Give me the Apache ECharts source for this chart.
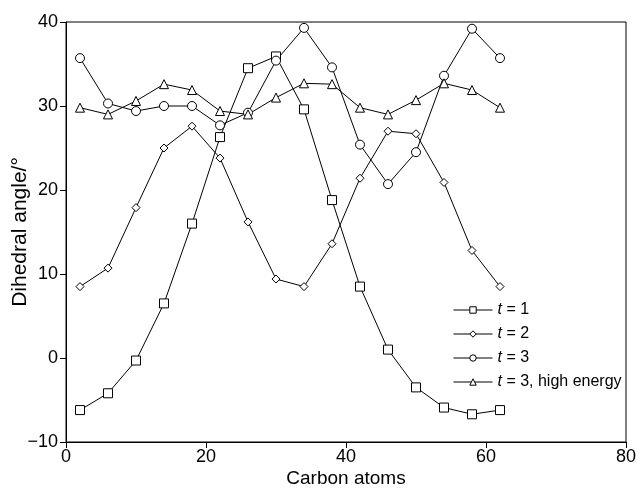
<!DOCTYPE html>
<html>
<head>
<meta charset="utf-8">
<script src="https://cdn.jsdelivr.net/npm/echarts@6/dist/echarts.min.js"></script>
<style>
  html, body { margin: 0; padding: 0; background: #fff; }
  #main { width: 638px; height: 490px; }
</style>
</head>
<body>
<div id="main"></div>
<script>
// carbon atom positions
var carbons = [2, 6, 10, 14, 18, 22, 26, 30, 34, 38, 42, 46, 50, 54, 58, 62];
// dihedral angles
var t1 = [-6.2, -4.2, -0.3, 6.5, 16.0, 26.3, 34.5, 35.9, 29.6, 18.8, 8.5, 1.0, -3.5, -5.9, -6.7, -6.2];
var t2 = [8.5, 10.7, 17.9, 25.0, 27.6, 23.8, 16.2, 9.4, 8.5, 13.6, 21.4, 27.0, 26.7, 20.9, 12.8, 8.5];
var t3 = [35.7, 30.3, 29.4, 30.0, 30.0, 27.7, 29.2, 35.4, 39.3, 34.6, 25.4, 20.7, 24.5, 33.6, 39.2, 35.7];
var t3high = [29.8, 29.0, 30.6, 32.6, 31.9, 29.4, 29.0, 31.0, 32.7, 32.6, 29.8, 29.0, 30.7, 32.7, 31.9, 29.8];
var seriesNames = ['t = 1', 't = 2', 't = 3', 't = 3, high energy'];

function pairs(ys) {
  return carbons.map(function (x, i) { return [x, ys[i]]; });
}

function makeSeries(name, ys, symbol, size) {
  return {
    name: name,
    type: 'line',
    data: pairs(ys),
    symbol: symbol,
    symbolSize: size,
    showAllSymbol: true,
    lineStyle: { color: '#000', width: 1 },
    itemStyle: { color: '#fff', borderColor: '#000', borderWidth: 1 },
    emphasis: { disabled: true },
    z: 3
  };
}

var chart = echarts.init(document.getElementById('main'));
var font = 'Liberation Sans, Arial, Helvetica, sans-serif';

chart.setOption({
  animation: false,
  backgroundColor: '#fff',
  grid: {
    left: 66, right: 12, top: 22, bottom: 48,
    outerBoundsMode: 'none',
    containLabel: false,
    show: true, borderColor: '#000', borderWidth: 1
  },
  legend: {
    left: 448, top: 297,
    orient: 'vertical',
    itemWidth: 39, itemHeight: 8,
    itemGap: 8,
    data: seriesNames.map(function (n) {
      return {
        name: n,
        itemStyle: { color: '#fff', borderColor: '#000', borderWidth: 1 },
        lineStyle: { color: '#000', width: 1 }
      };
    }),
    textStyle: {
      color: '#000', fontSize: 16, fontFamily: font,
      rich: { i: { fontStyle: 'italic', fontSize: 16, fontFamily: font, color: '#000' } }
    },
    formatter: function (name) {
      return name.replace('t', '{i|t}');
    }
  },
  xAxis: {
    type: 'value',
    min: 0, max: 80, interval: 20,
    name: 'Carbon atoms',
    nameLocation: 'middle',
    nameGap: 27,
    nameMoveOverlap: false,
    nameTextStyle: { color: '#000', fontSize: 19, fontFamily: font },
    axisLine: { show: true, onZero: false, lineStyle: { color: '#000', width: 1 } },
    axisTick: { show: true, inside: false, length: 6, lineStyle: { color: '#000' } },
    axisLabel: { color: '#000', fontSize: 18, fontFamily: font, margin: 6 },
    splitLine: { show: false }
  },
  yAxis: {
    type: 'value',
    min: -10, max: 40, interval: 10,
    name: 'Dihedral angle/°',
    nameLocation: 'middle',
    nameGap: 35,
    nameMoveOverlap: false,
    nameTextStyle: { color: '#000', fontSize: 21, fontFamily: font },
    axisLine: { show: true, onZero: false, lineStyle: { color: '#000', width: 1 } },
    axisTick: { show: true, inside: false, length: 6, lineStyle: { color: '#000' } },
    axisLabel: {
      color: '#000', fontSize: 18, fontFamily: font, margin: 8,
      formatter: function (v) { return String(v).replace('-', '\u2212'); }
    },
    splitLine: { show: false }
  },
  series: [
    makeSeries(seriesNames[0], t1, 'rect', 9),
    makeSeries(seriesNames[1], t2, 'diamond', 8),
    makeSeries(seriesNames[2], t3, 'circle', 9),
    makeSeries(seriesNames[3], t3high, 'triangle', 9)
  ]
});
</script>
</body>
</html>
